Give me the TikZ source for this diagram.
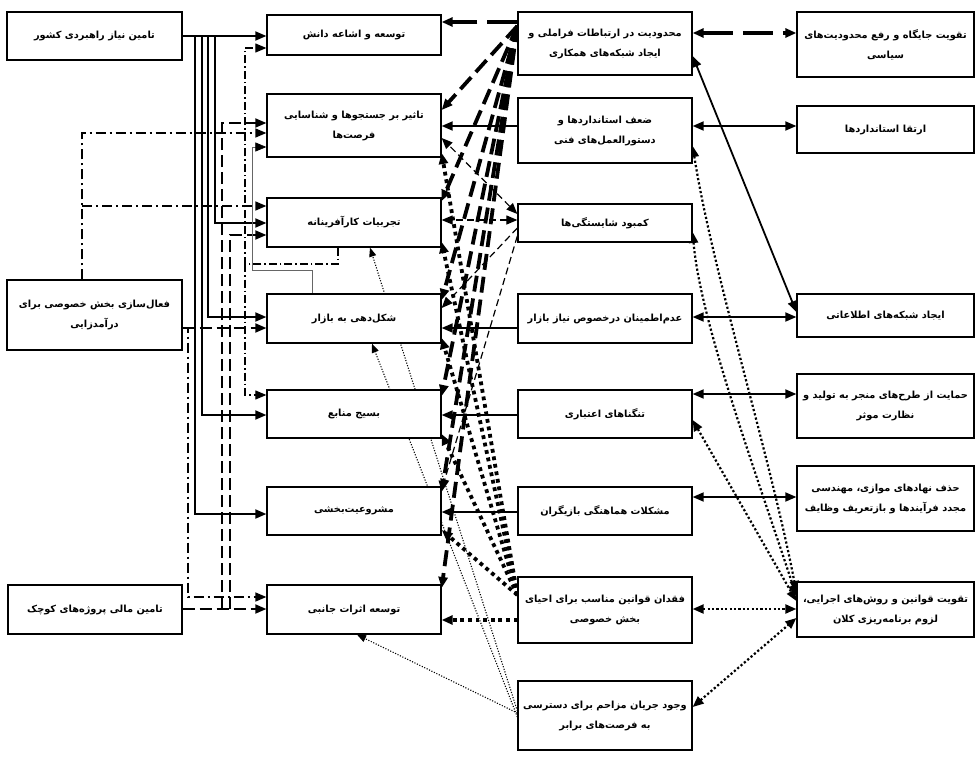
\documentclass[tikz,border=0pt]{standalone}
\usepackage{fontspec}
\newfontfamily\fa[Script=Arabic]{DejaVu Sans Bold}
\TeXXeTstate=1
\usetikzlibrary{arrows.meta,backgrounds}
\newcommand\rl[1]{\beginR#1\endR}
\begin{document}
\begin{tikzpicture}[x=1pt,y=-1pt,
  bx/.style={draw, line width=1.3pt, fill=white, inner sep=2pt, align=center,
    font=\fa\fontsize{9.8}{20}\selectfont},
  arr/.style={-{Triangle[length=11pt,width=9pt]}},
  garr/.style={-{Triangle[length=11pt,width=9pt,black]}},
  sarr/.style={-{Triangle[length=9pt,width=7pt]}},
  dbl/.style={{Triangle[length=11pt,width=9pt]}-{Triangle[length=11pt,width=9pt]}},
  sol/.style={line width=1.8pt},
  hdash/.style={line width=3.8pt, dash pattern=on 16pt off 7pt},
  hdashL/.style={line width=4pt, dash pattern=on 30pt off 10pt},
  hdot/.style={line width=3.8pt, dash pattern=on 3.8pt off 3.8pt},
  mdash/.style={line width=1.2pt, dash pattern=on 7pt off 4pt},
  ldash/.style={line width=1.8pt, dash pattern=on 12pt off 5pt},
  ddot/.style={line width=1.5pt, dash pattern=on 10pt off 4pt on 2pt off 4pt},
  ddthin/.style={line width=1.1pt, dash pattern=on 8pt off 3pt on 1.5pt off 3pt},
  gthin/.style={line width=0.7pt, black!60},
  tdot/.style={line width=1.1pt, dash pattern=on 1.1pt off 1.6pt},
  mdot/.style={line width=2.2pt, dash pattern=on 2.2pt off 2.2pt}]
\useasboundingbox (0,0) rectangle (979,760);
% left column
\node[bx,minimum width=175pt,minimum height=48pt] (L1) at (94.5,36) {\rl{تامین نیاز راهبردی کشور}};
\node[bx,minimum width=175pt,minimum height=70pt] (L2) at (94.5,315) {\rl{فعال‌سازی بخش خصوصی برای}\\\rl{درآمدزایی}};
\node[bx,minimum width=174pt,minimum height=49pt] (L3) at (95,609.5) {\rl{تامین مالی پروژه‌های کوچک}};
% middle column
\node[bx,minimum width=174pt,minimum height=40pt] (M1) at (354,35) {\rl{توسعه و اشاعه دانش}};
\node[bx,minimum width=174pt,minimum height=63pt] (M2) at (354,125.5) {\rl{تاثیر بر جستجوها و شناسایی}\\\rl{فرصت‌ها}};
\node[bx,minimum width=174pt,minimum height=49pt] (M3) at (354,222.5) {\rl{تجربیات کارآفرینانه}};
\node[bx,minimum width=174pt,minimum height=49pt] (M4) at (354,318.5) {\rl{شکل‌دهی به بازار}};
\node[bx,minimum width=174pt,minimum height=48pt] (M5) at (354,414) {\rl{بسیج منابع}};
\node[bx,minimum width=174pt,minimum height=48pt] (M6) at (354,511) {\rl{مشروعیت‌بخشی}};
\node[bx,minimum width=174pt,minimum height=49pt] (M7) at (354,609.5) {\rl{توسعه اثرات جانبی}};
% barrier column
\node[bx,minimum width=174pt,minimum height=63pt] (C1) at (605,43.5) {\rl{محدودیت در ارتباطات فراملی و}\\\rl{ایجاد شبکه‌های همکاری}};
\node[bx,minimum width=174pt,minimum height=65pt] (C2) at (605,130.5) {\rl{ضعف استانداردها و}\\\rl{دستورالعمل‌های فنی}};
\node[bx,minimum width=174pt,minimum height=38pt] (C3) at (605,223) {\rl{کمبود شایستگی‌ها}};
\node[bx,minimum width=174pt,minimum height=49pt] (C4) at (605,318.5) {\rl{عدم‌اطمینان درخصوص نیاز بازار}};
\node[bx,minimum width=174pt,minimum height=48pt] (C5) at (605,414) {\rl{تنگناهای اعتباری}};
\node[bx,minimum width=174pt,minimum height=48pt] (C6) at (605,511) {\rl{مشکلات هماهنگی بازیگران}};
\node[bx,minimum width=174pt,minimum height=66pt] (C7) at (605,610) {\rl{فقدان قوانین مناسب برای احیای}\\\rl{بخش خصوصی}};
\node[bx,minimum width=174pt,minimum height=69pt] (C8) at (605,715.5) {\rl{وجود جریان مزاحم برای دسترسی}\\\rl{به فرصت‌های برابر}};
% right column
\node[bx,minimum width=177pt,minimum height=65pt] (R1) at (885.5,44.5) {\rl{تقویت جایگاه و رفع محدودیت‌های}\\\rl{سیاسی}};
\node[bx,minimum width=177pt,minimum height=47pt] (R2) at (885.5,129.5) {\rl{ارتقا استانداردها}};
\node[bx,minimum width=177pt,minimum height=43pt] (R3) at (885.5,315.5) {\rl{ایجاد شبکه‌های اطلاعاتی}};
\node[bx,minimum width=177pt,minimum height=64pt] (R4) at (885.5,406) {\rl{حمایت از طرح‌های منجر به تولید و}\\\rl{نظارت موثر}};
\node[bx,minimum width=177pt,minimum height=65pt] (R5) at (885.5,498.5) {\rl{حذف نهادهای موازی، مهندسی}\\\rl{مجدد فرآیندها و بازتعریف وظایف}};
\node[bx,minimum width=177pt,minimum height=55pt] (R6) at (885.5,609.5) {\rl{تقویت قوانین و روش‌های اجرایی،}\\\rl{لزوم برنامه‌ریزی کلان}};

\begin{scope}[on background layer]
% left side connectors
\draw[sol,arr] (L1.east) -- (M1.west |- L1.east);
\draw[sol,arr] (215,36) -- (215,223) -- (M3.west |- 0,223);
\draw[sol,arr] (208,36) -- (208,317) -- (M4.west |- 0,317);
\draw[sol,arr] (202,36) -- (202,415) -- (M5.west |- 0,415);
\draw[sol,arr] (195,36) -- (195,514) -- (M6.west |- 0,514);
\draw[ddot,arr] (L2.north -| 82,0) -- (82,133) -- (M2.west |- 0,133);
\draw[ddot,arr] (82,206) -- (M3.west |- 0,206);
\draw[ldash,arr] (L2.east |- 0,328) -- (M4.west |- 0,328);
\draw[ddot,arr] (L2.east |- 0,328) -- (188,328) -- (188,597) -- (M7.west |- 0,597);
\draw[ldash,arr] (L3.east |- 0,609) -- (M7.west |- 0,609);
\draw[ldash,arr] (222,609) -- (222,123) -- (M2.west |- 0,123);
\draw[ldash,arr] (230,609) -- (230,235) -- (M3.west |- 0,235);
\draw[ddthin,arr] (M3.south -| 338,0) -- (338,264) -- (245,264) -- (245,48) -- (M1.west |- 0,48);
\draw[ddthin,arr] (245,264) -- (245,395) -- (M5.west |- 0,395);
\draw[gthin,garr] (M4.north -| 312,0) -- (312,270) -- (252,270) -- (252,147) -- (M2.west |- 0,147);
% thin dotted from C8 upward
\draw[tdot,sarr] (C8.west |- 0,711) -- (M3.south -| 370,0);
\draw[tdot,sarr] (C8.west |- 0,717) -- (M4.south -| 372,0);
\draw[tdot,sarr] (C8.west |- 0,713) -- (M7.south -| 357,0);
% barriers to functions
\draw[hdashL,arr] (C1.west |- 0,22) -- (M1.east |- 0,22);
\foreach \n/\y in {M2/110,M3/201,M4/300,M5/396,M6/492,M7/588}
  \draw[hdash,arr] (C1.west |- 0,26) -- (\n.east |- 0,\y);
\draw[sol,arr] (C2.west |- 0,126) -- (M2.east |- 0,126);
\draw[mdash,dbl] (C3.west |- 0,220) -- (M3.east |- 0,220);
\draw[mdash,dbl] (C3.west |- 0,214) -- (M2.east |- 0,138);
\draw[mdash,arr] (C3.west |- 0,228) -- (M4.east |- 0,308);
\draw[mdash,arr] (C3.west |- 0,236) -- (M6.east |- 0,490);
\draw[sol,arr] (C4.west |- 0,328) -- (M4.east |- 0,328);
\draw[sol,arr] (C5.west |- 0,415) -- (M5.east |- 0,415);
\draw[sol,arr] (C6.west |- 0,512) -- (M6.east |- 0,512);
\foreach \n/\y in {M2/153,M3/242,M4/338,M5/434,M6/530}
  \draw[hdot,arr] (C7.west |- 0,595) -- (\n.east |- 0,\y);
\draw[hdot,arr] (C7.west |- 0,620) -- (M7.east |- 0,620);
% barriers to remedies
\draw[hdashL,dbl] (C1.east |- 0,33) -- (R1.west |- 0,33);
\draw[sol,dbl] (C2.east |- 0,126) -- (R2.west |- 0,126);
\draw[sol,dbl] (C4.east |- 0,317) -- (R3.west |- 0,317);
\draw[sol,dbl] (C5.east |- 0,394) -- (R4.west |- 0,394);
\draw[sol,dbl] (C6.east |- 0,497) -- (R5.west |- 0,497);
\draw[sol,dbl] (C1.east |- 0,56) -- (R3.west |- 0,312);
\draw[mdot,dbl] (C7.east |- 0,609) -- (R6.west |- 0,609);
\draw[mdot,dbl] (C8.east |- 0,707) -- (R6.west |- 0,618);
\draw[mdot,dbl] (C5.east |- 0,420) -- (R6.west |- 0,601);
\draw[mdot,dbl] (C2.east |- 0,146) .. controls (712,270) and (770,455) .. (R6.west |- 0,592);
\draw[mdot,dbl] (C3.east |- 0,232) .. controls (700,320) and (755,470) .. (R6.west |- 0,596);
\end{scope}
\end{tikzpicture}
\end{document}
